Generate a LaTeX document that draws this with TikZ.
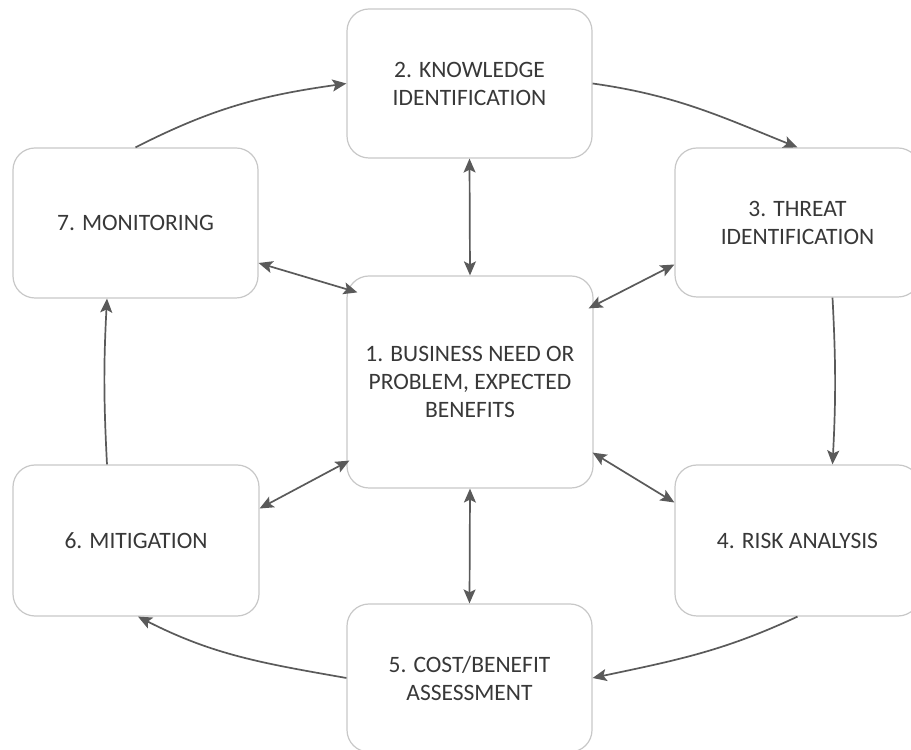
\documentclass[tikz,border=0pt]{standalone}
\usepackage{fontspec}
\setmainfont{Carlito}
\usetikzlibrary{arrows.meta,calc}
\definecolor{boxline}{HTML}{C8C8C8}
\definecolor{arrowc}{HTML}{5A5A5A}
\definecolor{txt}{HTML}{383838}
\begin{document}
\begin{tikzpicture}[x=1pt,y=1pt,
  box/.style={draw=boxline, line width=1.2pt, rounded corners=22pt, fill=white,
    align=center, text=txt, font=\fontsize{23.5}{28}\selectfont, inner sep=0pt,
    minimum width=245pt},
  conn/.style={draw=arrowc, line width=1.7pt, -{Stealth[length=14pt,width=12pt,inset=3pt]}},
  dconn/.style={draw=arrowc, line width=1.7pt,
    {Stealth[length=14pt,width=12pt,inset=3pt]}-{Stealth[length=14pt,width=12pt,inset=3pt]}}]
\useasboundingbox (0,0) rectangle (911,750);
\clip (0,0) rectangle (911,750);
\fill[white] (0,0) rectangle (911,750);

\node[box, minimum height=149pt] (b2) at (469.5,666.5) {2. KNOWLEDGE\\IDENTIFICATION};
\node[box, minimum height=150pt] (b7) at (135.5,527) {7. MONITORING};
\node[box, minimum height=149pt] (b3) at (797.5,527.5) {3. THREAT\\IDENTIFICATION};
\node[box, minimum width=246pt, minimum height=212pt] (b1) at (470,368) {1. BUSINESS NEED OR\\PROBLEM, EXPECTED\\BENEFITS};
\node[box, minimum width=246pt, minimum height=151pt] (b6) at (136,209.5) {6. MITIGATION};
\node[box, minimum height=151pt] (b4) at (797.5,209.5) {4. RISK ANALYSIS};
\node[box, minimum height=148pt] (b5) at (469.5,72) {5. COST/BENEFIT\\ASSESSMENT};

% outer cycle
\draw[conn] (b7.north) to[out=27,in=188] (b2.west);
\draw[conn] (b2.east) to[out=-8,in=158] (b3.north);
\draw[conn] ([xshift=35pt]b3.south) to[bend left=3] ([xshift=35pt]b4.north);
\draw[conn] (b4.south) to[out=205,in=12] (b5.east);
\draw[conn] (b5.west) to[out=170,in=-27] ([xshift=2pt]b6.south);
\draw[conn] ([xshift=-29pt]b6.north) to[bend left=3] ([xshift=-28.5pt]b7.south);

% links to the centre
\draw[dconn] (b2.south) -- (b1.north);
\draw[dconn] (b5.north) -- (b1.south);
\draw[dconn] ([yshift=-40pt]b7.east) -- ([shift={(11pt,-17pt)}]b1.north west);
\draw[dconn] ([yshift=-42pt]b3.west) -- ([shift={(-5pt,-33pt)}]b1.north east);
\draw[dconn] ([yshift=32pt]b6.east) -- ([shift={(3pt,28pt)}]b1.south west);
\draw[dconn] ([yshift=38pt]b4.west) -- ([shift={(-1pt,36pt)}]b1.south east);
\end{tikzpicture}
\end{document}
